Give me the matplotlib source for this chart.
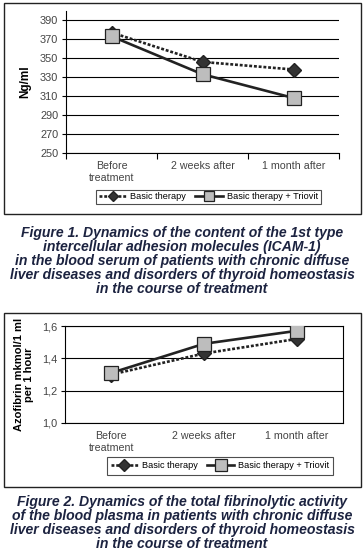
import matplotlib
matplotlib.use('Agg')
import matplotlib.pyplot as plt
from matplotlib.patches import Rectangle
import numpy as np

plt.rcParams['font.family'] = ['Liberation Sans', 'DejaVu Sans']

# Data
categories = ['Before\ntreatment', '2 weeks after', '1 month after']
series_names = ['Basic therapy', 'Basic therapy + Triovit']

# Figure 1: ICAM-1, Ng/ml
icam_basic = [377, 346, 338]
icam_triovit = [373, 333, 308]
icam_ticks = [250, 270, 290, 310, 330, 350, 370, 390]

# Figure 2: fibrinolytic activity
fib_basic = [1.30, 1.43, 1.52]
fib_triovit = [1.31, 1.49, 1.57]
fib_ticks = [1.0, 1.2, 1.4, 1.6]
fib_ticklabels = ['1,0', '1,2', '1,4', '1,6']

caption1 = ('Figure 1. Dynamics of the content of the 1st type\n'
            'intercellular adhesion molecules (ICAM-1)\n'
            'in the blood serum of patients with chronic diffuse\n'
            'liver diseases and disorders of thyroid homeostasis\n'
            'in the course of treatment')
caption2 = ('Figure 2. Dynamics of the total fibrinolytic activity\n'
            'of the blood plasma in patients with chronic diffuse\n'
            'liver diseases and disorders of thyroid homeostasis\n'
            'in the course of treatment')

W, H = 364, 555
fig = plt.figure(figsize=(W / 100, H / 100), dpi=100)

def fx(px):
    return px / W

def fy(py):
    return 1 - py / H

# outer frames
for top, bot in [(3, 214), (313, 487)]:
    fig.patches.append(Rectangle((fx(4), fy(bot)), fx(357), (bot - top) / H,
                                 transform=fig.transFigure, fill=False,
                                 edgecolor='#222222', lw=1.0))

line_col = '#222222'
tick_col = '#444444'
x = np.arange(len(categories))

def draw(ax, basic, triovit, ms_sq=10.5, ms_d=6.8):
    ax.plot(x, basic, color=line_col, lw=1.9, linestyle=(0, (1.1, 0.7)),
            marker='D', ms=ms_d, mfc='#333333', mec='#222222', zorder=3,
            label=series_names[0])
    ax.plot(x, triovit, color=line_col, lw=1.9, marker='s', ms=ms_sq,
            mfc='#bdbdbd', mec='#222222', mew=0.9, zorder=4,
            label=series_names[1])
    ax.set_xlim(-0.5, 2.5)
    ax.set_xticks(x)
    ax.set_xticklabels(categories, fontsize=7.7, color=tick_col)
    ax.tick_params(axis='x', length=0, pad=6)
    ax.tick_params(axis='y', length=3, width=0.8, labelsize=7.9,
                   labelcolor=tick_col, pad=2.5)
    ax.yaxis.grid(True, color='black', lw=0.8)
    ax.set_axisbelow(True)

# Chart 1
ax1 = fig.add_axes([fx(66), fy(153), fx(273), (153 - 10.7) / H])
draw(ax1, icam_basic, icam_triovit)
ax1.set_ylim(250, 400)
ax1.set_yticks(icam_ticks)
ax1.set_xticks([-0.5, 0.5, 1.5, 2.5], minor=True)
ax1.tick_params(axis='x', which='minor', length=4, width=0.8)
ax1.spines['top'].set_visible(False)
ax1.spines['right'].set_visible(False)
for s in ['left', 'bottom']:
    ax1.spines[s].set_linewidth(0.8)
ax1.set_ylabel('Ng/ml', fontsize=8.5, fontweight='bold', labelpad=6)
ax1.legend(loc='center', bbox_to_anchor=(fx(208.5), fy(197)),
           bbox_transform=fig.transFigure, ncol=2, fontsize=6.6,
           frameon=True, fancybox=False, edgecolor='#222222',
           handlelength=3.0, columnspacing=1.0, handletextpad=0.4,
           borderpad=0.3, markerscale=0.7).get_frame().set_linewidth(0.8)

# Chart 2
ax2 = fig.add_axes([fx(65), fy(423), fx(278), (423 - 326) / H])
draw(ax2, fib_basic, fib_triovit)
ax2.set_ylim(1.0, 1.6)
ax2.set_yticks(fib_ticks)
ax2.set_yticklabels(fib_ticklabels)
for s in ax2.spines.values():
    s.set_linewidth(0.8)
ax2.set_ylabel('Azofibrin mkmol/1 ml\nper 1 hour', fontsize=8,
               fontweight='bold', labelpad=6, linespacing=0.95)
ax2.legend(loc='center', bbox_to_anchor=(fx(220), fy(466)),
           bbox_transform=fig.transFigure, ncol=2, fontsize=6.6,
           frameon=True, fancybox=False, edgecolor='#222222',
           handlelength=3.0, columnspacing=1.0, handletextpad=0.4,
           borderpad=0.45, markerscale=0.85).get_frame().set_linewidth(0.8)

cap_col = '#1c2340'
fig.text(fx(182), fy(261), caption1, ha='center', va='center', fontsize=10.1,
         fontweight='bold', fontstyle='italic', color=cap_col, linespacing=0.98)
fig.text(fx(182), fy(523), caption2, ha='center', va='center', fontsize=10.1,
         fontweight='bold', fontstyle='italic', color=cap_col, linespacing=0.98)

fig.savefig('out.png', dpi=100)
